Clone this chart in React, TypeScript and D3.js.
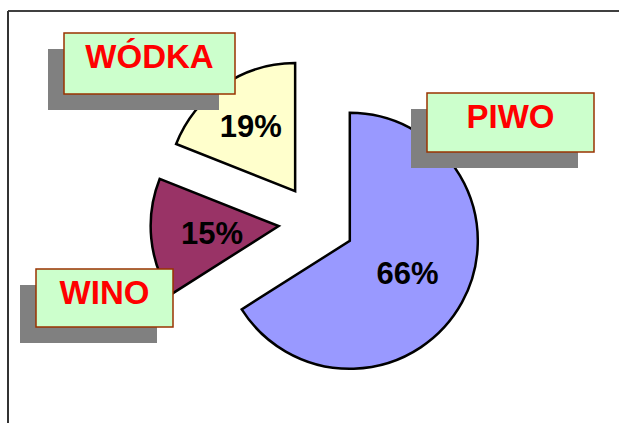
import * as d3 from 'd3'

// slices, in drawing order (clockwise from 12 o'clock)
const categories = ['PIWO', 'WINO', 'WÓDKA']
const values = [66, 15, 19]
const colors = ['#9999FF', '#993366', '#FFFFCC']

const width = 619
const height = 423
const cx = 316.5
const cy = 222.5
const radius = 128
const explode = 38
const font = '"Liberation Sans", Arial, sans-serif'

// distance of the percent label from the slice tip
const labelRadius = [66, 67, 79]
// callout boxes, relative to the pie centre
const callouts = [
    { dx: 110.5, dy: -129.5, w: 167, h: 59 },
    { dx: -280.5, dy: 46.5, w: 137, h: 58 },
    { dx: -252.5, dy: -189.5, w: 171, h: 61 }
]
const shadowOffset = 16

export default function App() {
    const total = d3.sum(values)
    const arcs = d3.pie<number>().sort(null).value(d => d)(values)
    const arc = d3.arc<d3.PieArcDatum<number>>().innerRadius(0).outerRadius(radius)

    return (
        <svg width={width} height={height} style={{ position: 'absolute', left: 0, top: 0, background: '#fff' }}>
            <line x1={8} y1={11} x2={width} y2={11} stroke="#000" strokeWidth={1.5} />
            <line x1={8} y1={11} x2={8} y2={height} stroke="#333" strokeWidth={2} />

            {arcs.map((a, i) => {
                const mid = (a.startAngle + a.endAngle) / 2
                const ux = Math.sin(mid)
                const uy = -Math.cos(mid)
                const tx = cx + explode * ux
                const ty = cy + explode * uy
                return (
                    <g key={categories[i]} transform={`translate(${tx},${ty})`}>
                        <path d={arc(a) || ''} fill={colors[i]} stroke="#000" strokeWidth={2.5} strokeLinejoin="miter" />
                        <text
                            x={labelRadius[i] * ux}
                            y={labelRadius[i] * uy}
                            dy="0.36em"
                            textAnchor="middle"
                            fontFamily={font}
                            fontWeight="bold"
                            fontSize={31}
                            fill="#000"
                        >
                            {Math.round((values[i] / total) * 100)}%
                        </text>
                    </g>
                )
            })}

            {categories.map((c, i) => {
                const b = callouts[i]
                const x = cx + b.dx
                const y = cy + b.dy
                return (
                    <g key={c}>
                        <rect x={x - shadowOffset} y={y + shadowOffset} width={b.w} height={b.h} fill="#808080" />
                        <rect x={x} y={y} width={b.w} height={b.h} fill="#CCFFCC" stroke="#993300" strokeWidth={1.5} />
                        <text
                            x={x + b.w / 2}
                            y={y + 34.5}
                            textAnchor="middle"
                            fontFamily={font}
                            fontWeight="bold"
                            fontSize={33}
                            fill="#FF0000"
                        >
                            {c}
                        </text>
                    </g>
                )
            })}
        </svg>
    )
}
